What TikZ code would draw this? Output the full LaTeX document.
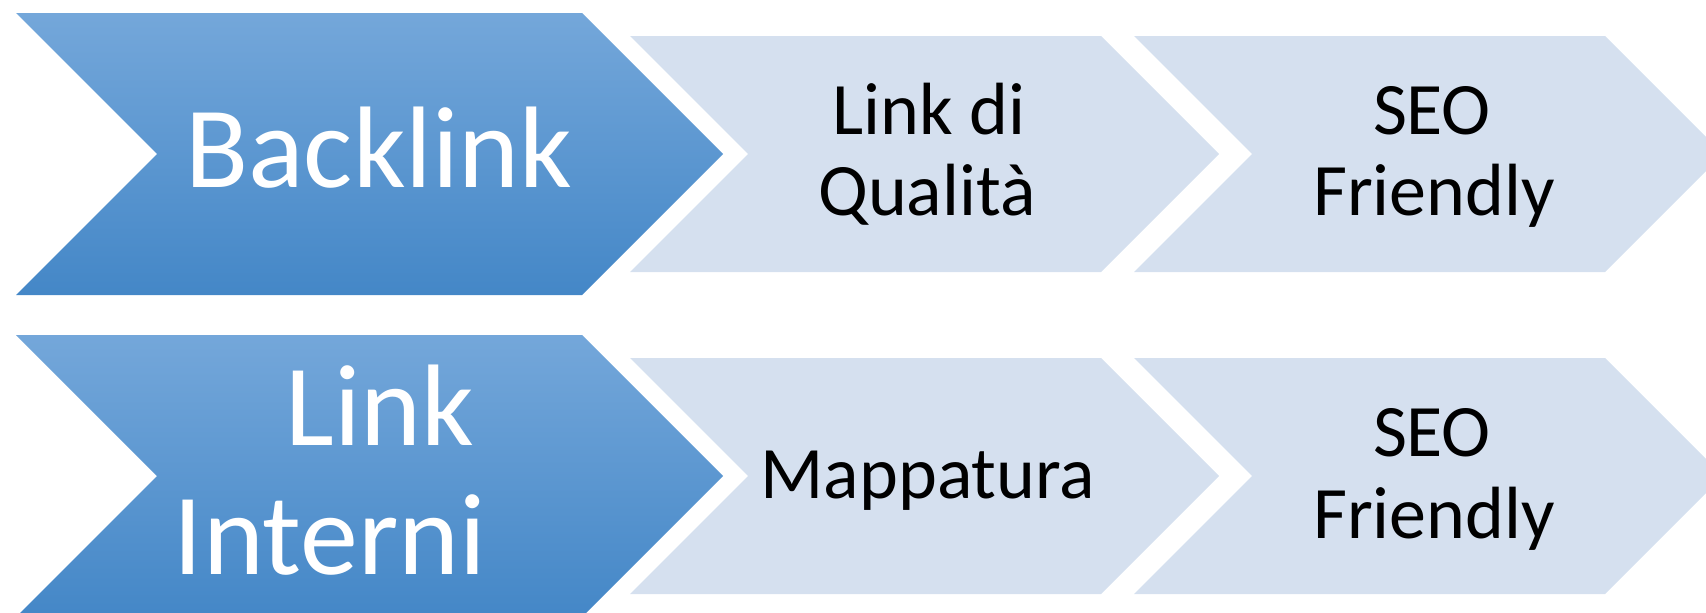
\documentclass[tikz,border=0pt]{standalone}
\usepackage{fontspec}
\setmainfont{Carlito}
\begin{document}
\begin{tikzpicture}[x=1pt,y=-1pt,
  bigchev/.style={top color=bigtop,bottom color=bigbot,draw=none},
  lightchev/.style={fill=lightfill,draw=none},
  bigtext/.style={anchor=base,inner sep=0pt,text=white,font=\fontsize{116}{128}\selectfont},
  smalltext/.style={anchor=base,inner sep=0pt,text=black,font=\fontsize{74}{81}\selectfont}]
\definecolor{bigtop}{HTML}{74A7DA}
\definecolor{bigbot}{HTML}{4487C7}
\definecolor{lightfill}{HTML}{D5E0EF}
\useasboundingbox (0,0) rectangle (1706,613);
\clip (0,0) rectangle (1706,613);
% Row 1
\path[bigchev] (16,13) -- (582,13) -- (723,154) -- (582,295) -- (16,295) -- (157,154) -- cycle;
\path[lightchev] (630,36) -- (1101,36) -- (1219,154) -- (1101,272) -- (630,272) -- (748,154) -- cycle;
\path[lightchev] (1134,36) -- (1605,36) -- (1723,154) -- (1605,272) -- (1134,272) -- (1252,154) -- cycle;
\node[bigtext] (backlink) at (379,187) {Backlink};
\node[smalltext] (linkdi) at (929,134) {Link di};
\node[smalltext] (qualita) at (927,215) {Qualità};
\node[smalltext] (seoa) at (1432,134) {SEO};
\node[smalltext] (frienda) at (1434,215) {Friendly};
% Row 2
\path[bigchev] (16,335) -- (582,335) -- (723,476) -- (582,617) -- (16,617) -- (157,476) -- cycle;
\path[lightchev] (630,358) -- (1101,358) -- (1219,476) -- (1101,594) -- (630,594) -- (748,476) -- cycle;
\path[lightchev] (1134,358) -- (1605,358) -- (1723,476) -- (1605,594) -- (1134,594) -- (1252,476) -- cycle;
\node[bigtext] (link) at (380,445) {Link};
\node[bigtext] (interni) at (330,574) {Interni};
\node[smalltext] (mappatura) at (928,498) {Mappatura};
\node[smalltext] (seob) at (1432,456) {SEO};
\node[smalltext] (friendb) at (1434,538) {Friendly};
\end{tikzpicture}
\end{document}
